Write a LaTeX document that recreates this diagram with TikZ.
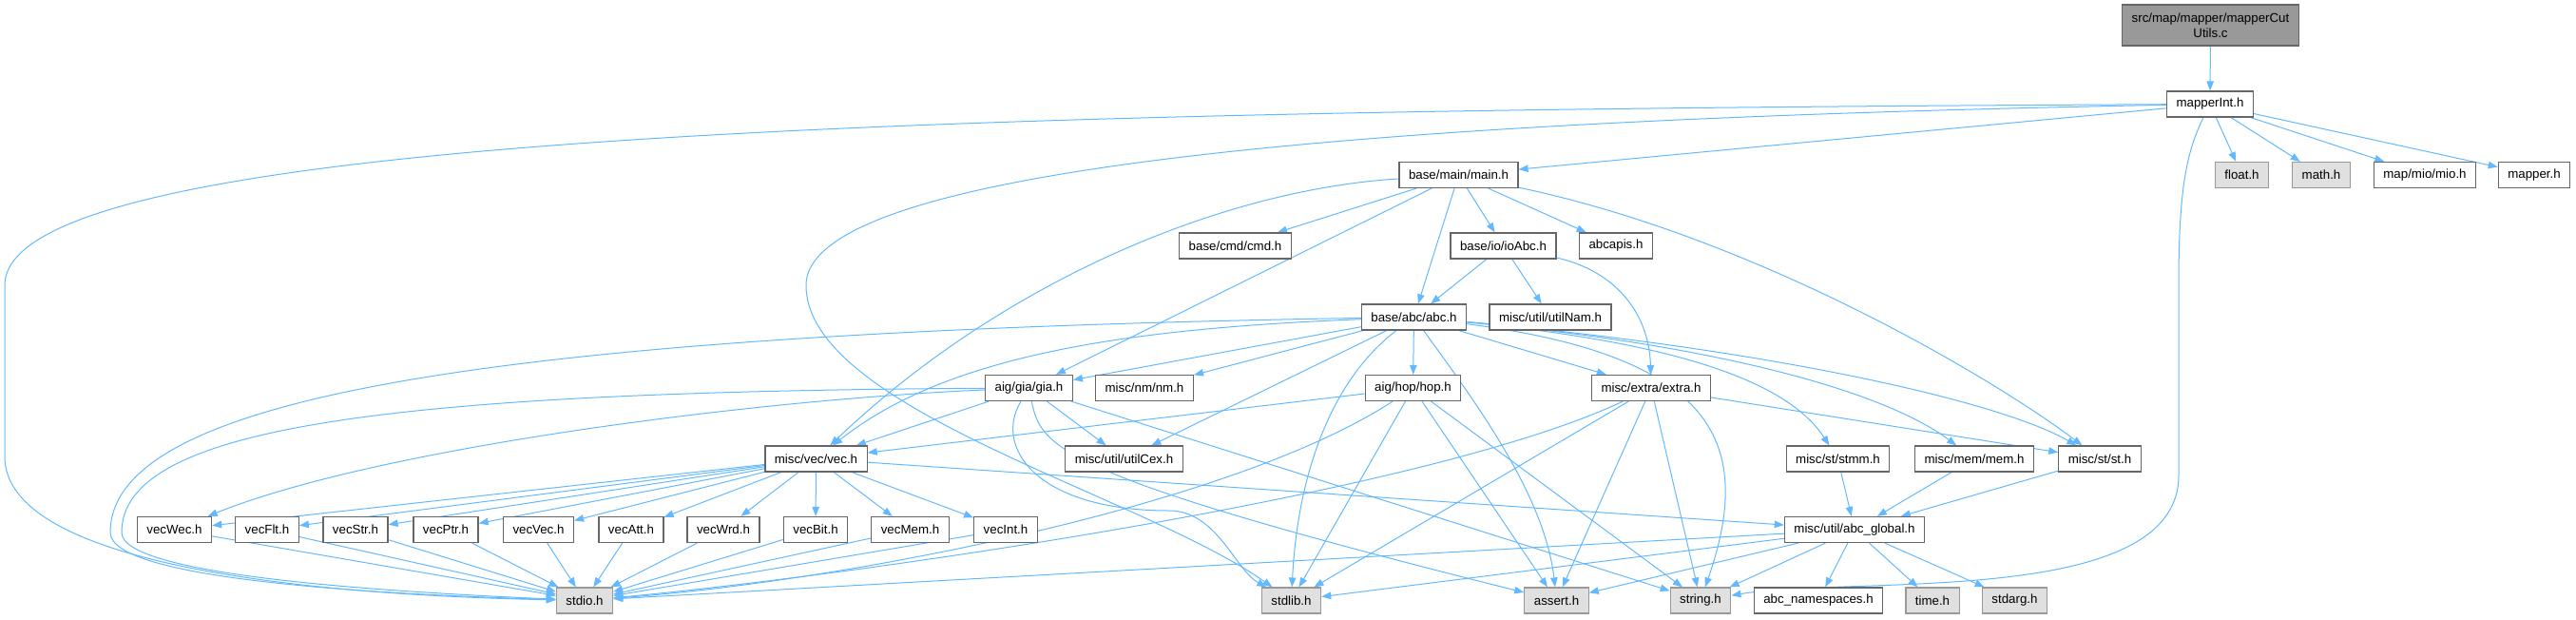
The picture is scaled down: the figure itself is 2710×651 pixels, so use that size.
\documentclass[tikz,border=0pt]{standalone}
\usepackage{fontspec}
\setmainfont{Liberation Sans}
\usetikzlibrary{arrows.meta}
\definecolor{edgeblue}{HTML}{63B8FF}
\definecolor{sysfill}{HTML}{E0E0E0}
\pgfdeclarelayer{edges}
\pgfsetlayers{edges,main}

\begin{document}
\begin{tikzpicture}[
  x=1pt,y=-1pt,
  n/.style={draw=black!60,line width=1.2pt,fill=white,minimum height=27pt,inner xsep=10pt,inner ysep=2pt,font=\fontsize{13.3}{16}\selectfont},
  sys/.style={n,draw=black!40,fill=sysfill},
  root/.style={n,fill=black!40,align=center,minimum height=43pt},
  arr/.style={draw=edgeblue,line width=1pt,-{Triangle[length=10pt,width=7.5pt]}}
]
\useasboundingbox (0,0) rectangle (2710,651);
% Row 0-1
\node[root] (cututils) at (2325.5,26.5) {src/map/mapper/mapperCut\\Utils.c};
\node[n] (mapint) at (2325,109.5) {mapperInt.h};
% Row 2
\node[n] (mainh) at (1534.5,184) {base/main/main.h};
\node[sys] (floath) at (2358.5,184) {float.h};
\node[sys] (mathh) at (2442,184) {math.h};
\node[n] (mioh) at (2551,184) {map/mio/mio.h};
\node[n] (mapperh) at (2666,184) {mapper.h};
% Row 3
\node[n] (cmdh) at (1299.5,258.5) {base/cmd/cmd.h};
\node[n] (ioabc) at (1581.5,258.5) {base/io/ioAbc.h};
\node[n] (abcapis) at (1700,258.5) {abcapis.h};
% Row 4
\node[n] (abch) at (1487.5,333.5) {base/abc/abc.h};
\node[n] (utilnam) at (1631,333.5) {misc/util/utilNam.h};
% Row 5
\node[n] (giah) at (1082.5,408) {aig/gia/gia.h};
\node[n] (nmh) at (1204,408) {misc/nm/nm.h};
\node[n] (hoph) at (1486.5,408) {aig/hop/hop.h};
\node[n] (extrah) at (1737,408) {misc/extra/extra.h};
% Row 6
\node[n] (vech) at (858.5,482.5) {misc/vec/vec.h};
\node[n] (utilcex) at (1182.5,482.5) {misc/util/utilCex.h};
\node[n] (stmmh) at (1933.5,482.5) {misc/st/stmm.h};
\node[n] (memh) at (2077,482.5) {misc/mem/mem.h};
\node[n] (sth) at (2209,482.5) {misc/st/st.h};
% Row 7
\node[n] (vecwec) at (183.5,557) {vecWec.h};
\node[n] (vecflt) at (281,557) {vecFlt.h};
\node[n] (vecstr) at (374,557) {vecStr.h};
\node[n] (vecptr) at (469,557) {vecPtr.h};
\node[n] (vecvec) at (566.5,557) {vecVec.h};
\node[n] (vecatt) at (664,557) {vecAtt.h};
\node[n] (vecwrd) at (761,557) {vecWrd.h};
\node[n] (vecbit) at (858,557) {vecBit.h};
\node[n] (vecmem) at (957.5,557) {vecMem.h};
\node[n] (vecint) at (1058,557) {vecInt.h};
\node[n] (abcglobal) at (1951,557) {misc/util/abc\_global.h};
% Row 8
\node[sys] (stdioh) at (615,631.5) {stdio.h};
\node[sys] (stdlibh) at (1358.5,631.5) {stdlib.h};
\node[sys] (asserth) at (1637.5,631.5) {assert.h};
\node[sys] (stringh) at (1789,631.5) {string.h};
\node[n] (abcns) at (1913,631.5) {abc\_namespaces.h};
\node[sys] (timeh) at (2033,631.5) {time.h};
\node[sys] (stdargh) at (2119.5,631.5) {stdarg.h};

\begin{pgfonlayer}{edges}
% mapperCutUtils.c, mapperInt.h
\draw[arr] (cututils) -- (mapint);
\draw[arr] (mapint) .. controls (1000,116) and (5,140) .. (5,300) -- (5,480) .. controls (5,590) and (300,625) .. (stdioh);
\draw[arr] (mapint) .. controls (1500,125) and (848,170) .. (848,300) .. controls (848,430) and (1200,520) .. (stdlibh);
\draw[arr] (mapint) .. controls (2300,160) and (2292,200) .. (2292,300) -- (2292,500) .. controls (2292,640) and (1950,605) .. (stringh);
\draw[arr] (mapint) -- (mainh);
\draw[arr] (mapint) -- (floath);
\draw[arr] (mapint) -- (mathh);
\draw[arr] (mapint) -- (mioh);
\draw[arr] (mapint) -- (mapperh);
% main.h
\draw[arr] (mainh) .. controls (1280,200) and (1050,300) .. (vech);
\draw[arr] (mainh) -- (cmdh);
\draw[arr] (mainh) -- (giah);
\draw[arr] (mainh) -- (abch);
\draw[arr] (mainh) -- (ioabc);
\draw[arr] (mainh) -- (abcapis);
\draw[arr] (mainh) .. controls (1850,250) and (2100,400) .. (sth);
% ioAbc.h
\draw[arr] (ioabc) -- (abch);
\draw[arr] (ioabc) -- (utilnam);
\draw[arr] (ioabc) .. controls (1700,285) and (1735,330) .. (extrah);
% abc.h
\draw[arr] (abch) .. controls (500,350) and (116,420) .. (116,560) .. controls (116,610) and (400,625) .. (stdioh);
\draw[arr] (abch) -- (giah);
\draw[arr] (abch) -- (nmh);
\draw[arr] (abch) .. controls (1200,345) and (1000,370) .. (vech);
\draw[arr] (abch) -- (utilcex);
\draw[arr] (abch) .. controls (1400,400) and (1365,500) .. (stdlibh);
\draw[arr] (abch) -- (hoph);
\draw[arr] (abch) .. controls (1550,420) and (1625,520) .. (asserth);
\draw[arr] (abch) -- (extrah);
\draw[arr] (abch) .. controls (1810,375) and (1845,470) .. (stringh);
\draw[arr] (abch) .. controls (1760,360) and (1880,400) .. (stmmh);
\draw[arr] (abch) .. controls (1800,362) and (1980,410) .. (memh);
\draw[arr] (abch) .. controls (1850,366) and (2100,420) .. (sth);
% gia.h
\draw[arr] (giah) -- (vech);
\draw[arr] (giah) -- (utilcex);
\draw[arr] (giah) .. controls (400,412) and (128,450) .. (128,560) .. controls (128,605) and (400,622) .. (stdioh);
\draw[arr] (giah) .. controls (800,420) and (400,470) .. (vecwec);
\draw[arr] (giah) .. controls (1045,470) and (1090,537) .. (1230,537) .. controls (1280,537) and (1300,600) .. (stdlibh);
\draw[arr] (giah) .. controls (1095,470) and (1110,500) .. (asserth);
\draw[arr] (giah) -- (stringh);
% hop.h
\draw[arr] (hoph) -- (vech);
\draw[arr] (hoph) .. controls (1300,530) and (900,610) .. (stdioh);
\draw[arr] (hoph) -- (stdlibh);
\draw[arr] (hoph) -- (asserth);
\draw[arr] (hoph) -- (stringh);
% extra.h
\draw[arr] (extrah) -- (sth);
\draw[arr] (extrah) .. controls (1500,520) and (900,605) .. (stdioh);
\draw[arr] (extrah) -- (stdlibh);
\draw[arr] (extrah) -- (asserth);
\draw[arr] (extrah) -- (stringh);
% vec.h
\draw[arr] (vech) -- (vecwec);
\draw[arr] (vech) -- (vecflt);
\draw[arr] (vech) -- (vecstr);
\draw[arr] (vech) -- (vecptr);
\draw[arr] (vech) -- (vecvec);
\draw[arr] (vech) -- (vecatt);
\draw[arr] (vech) -- (vecwrd);
\draw[arr] (vech) -- (vecbit);
\draw[arr] (vech) -- (vecmem);
\draw[arr] (vech) -- (vecint);
\draw[arr] (vech) -- (abcglobal);
% vec*.h
\draw[arr] (vecwec) -- (stdioh);
\draw[arr] (vecflt) -- (stdioh);
\draw[arr] (vecstr) -- (stdioh);
\draw[arr] (vecptr) -- (stdioh);
\draw[arr] (vecvec) -- (stdioh);
\draw[arr] (vecatt) -- (stdioh);
\draw[arr] (vecwrd) -- (stdioh);
\draw[arr] (vecbit) -- (stdioh);
\draw[arr] (vecmem) -- (stdioh);
\draw[arr] (vecint) -- (stdioh);
% st, stmm, mem
\draw[arr] (stmmh) -- (abcglobal);
\draw[arr] (memh) -- (abcglobal);
\draw[arr] (sth) -- (abcglobal);
% abc_global.h
\draw[arr] (abcglobal) -- (stdioh);
\draw[arr] (abcglobal) -- (stdlibh);
\draw[arr] (abcglobal) -- (asserth);
\draw[arr] (abcglobal) -- (stringh);
\draw[arr] (abcglobal) -- (abcns);
\draw[arr] (abcglobal) -- (timeh);
\draw[arr] (abcglobal) -- (stdargh);
\end{pgfonlayer}
\end{tikzpicture}
\end{document}
